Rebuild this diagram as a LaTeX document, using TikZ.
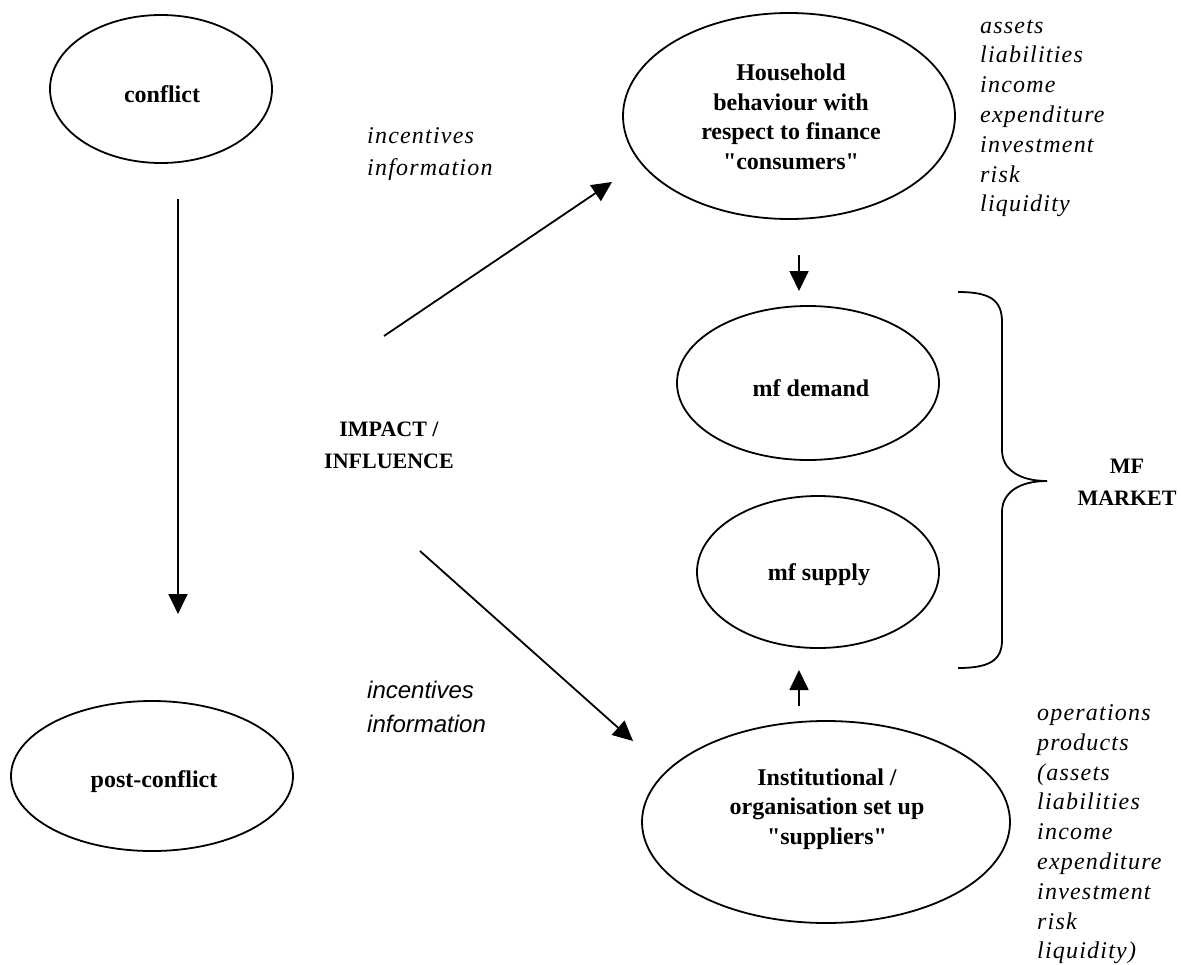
\documentclass[tikz,border=0pt]{standalone}
\usepackage{fontspec}
\newfontfamily\tms{Liberation Serif}
\newfontfamily\spit{Liberation Serif}[LetterSpace=5]
\newfontfamily\sansit{Liberation Sans}
\usetikzlibrary{arrows.meta,shapes.geometric}
\tikzset{
  oval/.style={draw, ellipse, line width=1.8pt, inner sep=0pt},
  boldtxt/.style={font=\tms\fontsize{24}{29.5}\selectfont\bfseries, align=center, inner sep=0pt},
  bigtxt/.style={font=\tms\fontsize{22}{32}\selectfont\bfseries, align=center, inner sep=0pt},
  listtxt/.style={font=\spit\fontsize{24}{29.5}\selectfont\itshape, anchor=base west, inner sep=0pt},
  sanstxt/.style={font=\sansit\fontsize{24}{29.5}\selectfont\itshape, anchor=base west, inner sep=0pt},
  arr/.style={line width=1.8pt, -{Triangle[width=19pt,length=20pt]}},
  bracepath/.style={line width=1.8pt}
}
\begin{document}
\begin{tikzpicture}[x=1pt,y=-1pt]
\useasboundingbox (0,0) rectangle (1183,964);
% ellipses
\node[oval, minimum width=222, minimum height=148] (conflict) at (161,89) {};
\node[oval, minimum width=282, minimum height=150] (post) at (152,776) {};
\node[oval, minimum width=332, minimum height=206] (house) at (789,116) {};
\node[oval, minimum width=262, minimum height=154] (demand) at (808,383) {};
\node[oval, minimum width=242, minimum height=152] (supply) at (818,572) {};
\node[oval, minimum width=368, minimum height=202] (inst) at (826,822) {};
% ellipse texts
\node[boldtxt] (conflictT) at (162,94) {conflict};
\node[boldtxt] (postT) at (154,782) {post-conflict};
\node[boldtxt] (houseT) at (791,117) {Household\\behaviour with\\respect to finance\\"consumers"};
\node[boldtxt] (demandT) at (811,388) {mf demand};
\node[boldtxt] (supplyT) at (819,575) {mf supply};
\node[boldtxt] (instT) at (827,809) {Institutional /\\organisation set up\\"suppliers"};
% middle labels
\node[bigtxt] (impact) at (389,445) {IMPACT /\\INFLUENCE};
\node[bigtxt] (mfm) at (1127,482) {MF\\MARKET};
\node[listtxt] (inc1) at (367,143) {incentives};
\node[listtxt] (inf1) at (367,175) {information};
\node[sanstxt] (inc2) at (367,698) {incentives};
\node[sanstxt] (inf2) at (367,732) {information};
% lists
\foreach \t [count=\i] in {assets,liabilities,income,expenditure,investment,risk,liquidity}
  \node[listtxt] (hl\i) at (980,{33+29.8*(\i-1)}) {\t};
\foreach \t [count=\i] in {operations,products,{(assets},liabilities,income,expenditure,investment,risk,{liquidity)}}
  \node[listtxt] (il\i) at (1037,{720.5+29.8*(\i-1)}) {\t};
% arrow end points
\coordinate (a1s) at (178,199); \coordinate (a1e) at (178,614);
\coordinate (a2s) at (384,336); \coordinate (a2e) at (612,182);
\coordinate (a3s) at (420,551); \coordinate (a3e) at (633,741);
\coordinate (a4s) at (799,255); \coordinate (a4e) at (799,291);
\coordinate (a5s) at (799,706); \coordinate (a5e) at (799,670);
\draw[arr] (a1s) -- (a1e);
\draw[arr] (a2s) -- (a2e);
\draw[arr] (a3s) -- (a3e);
\draw[arr] (a4s) -- (a4e);
\draw[arr] (a5s) -- (a5e);
% brace
\coordinate (bt) at (958,292); \coordinate (btip) at (1047,481); \coordinate (bb) at (958,668);
\draw[bracepath] (bt) .. controls (990,292) and (1002,300) .. (1002,322) -- (1002,450)
  .. controls (1002,470) and (1020,481) .. (btip)
  .. controls (1020,481) and (1002,492) .. (1002,512) -- (1002,640)
  .. controls (1002,660) and (990,668) .. (bb);
\end{tikzpicture}
\end{document}
